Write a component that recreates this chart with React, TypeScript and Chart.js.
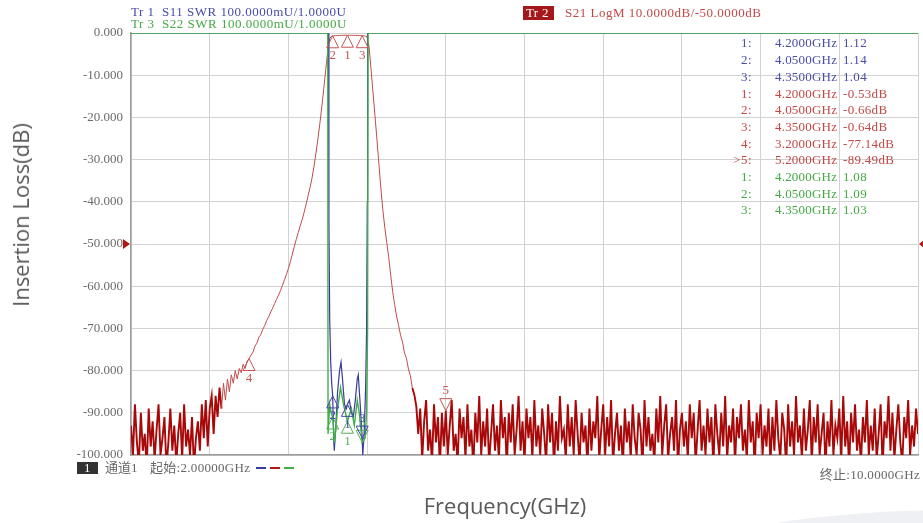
import React, { useEffect, useRef } from "react";
import { Chart, registerables } from "chart.js";

Chart.register(...registerables);

// ---- Sweep (S21 trace sampled on a uniform sweep from start, step in GHz) ----
const sweepStartGHz = 2;
const sweepStepGHz = 0.02;

// S21 LogM (dB), one value per sweep point 2.00 .. 10.00 GHz
const s21Db: number[] = [
  // 2.00 - 2.68 GHz noise floor
  -93, -100, -88, -97, -102, -90, -99, -95, -103, -89, -98, -92, -101, -94, -88,
  -100, -96, -91, -103, -97, -89, -99, -93, -102, -95, -90, -101, -88, -98, -94,
  -100, -91, -103, -96, -92,
  // 2.70 - 3.00 GHz rising noise
  -99, -88, -96, -87, -98, -89, -86, -95, -86, -91, -84, -89, -83, -87, -82, -85,
  // 3.02 - 3.18
  -81, -83, -80, -82, -79.5, -80.5, -78.5, -79.5, -77.8,
  // 3.20 (marker 4)
  -77.14,
  // 3.22 - 4.02 lower skirt
  -76.3, -75.6, -74.2, -73.5, -72.1, -71.4, -70.2, -69.3, -68.1, -67.2,
  -66.1, -65.2, -64.1, -63.1, -62.1, -61, -59.8, -58.5, -57.2, -55.8,
  -54.2, -52.4, -50.6, -48.9, -47.3, -45.7, -44.2, -42.5, -40.6, -38.6,
  -36.6, -34.4, -31.6, -28.5, -25.1, -21.4, -17.4, -13.1, -8.6, -4.2, -1.3,
  // 4.04 - 4.40 passband
  -0.72, -0.66, -0.62, -0.6, -0.58, -0.56, -0.55, -0.54, -0.53, -0.53,
  -0.54, -0.55, -0.56, -0.58, -0.6, -0.63, -0.64, -0.7, -0.95,
  // 4.42 - 4.90 upper skirt
  -3.2, -8.6, -14.1, -19.6, -25.2, -31, -36.8, -41.9, -46.1, -49.7,
  -53.2, -57.4, -61.3, -64.4, -67.1, -69.3, -71.6, -73.2, -75.8, -77.1,
  -79.6, -81.2, -84.1, -85.7, -88.4,
  // 4.92 - 10.00 noise floor
  -95, -89, -101, -92, -87, -99, -94, -102, -88, -97, -91, -103, -90, -98, -89.49,
  -100, -93, -87, -99, -95, -102, -89, -96, -91, -101, -88, -98, -94, -103, -90,
  -97, -86, -100, -92, -98, -89, -102, -95, -88, -99, -93, -101, -87, -96, -91,
  -103, -90, -97, -88, -100, -94, -86, -99, -92, -102, -89, -96, -91, -101, -87,
  -98, -93, -100, -89, -95, -102, -88, -97, -90, -103, -92, -99, -86, -96, -94,
  -101, -88, -98, -91, -100, -87, -95, -102, -90, -97, -93, -103, -89, -99, -92,
  -96, -86, -101, -94, -88, -100, -91, -98, -87, -102, -95, -90, -99, -93, -103,
  -89, -97, -92, -101, -88, -96, -100, -90, -94, -103, -87, -98, -91, -99, -95,
  -102, -89, -97, -86, -100, -93, -88, -101, -95, -91, -99, -87, -103, -94, -90,
  -98, -92, -101, -88, -96, -90, -102, -94, -87, -99, -93, -100, -89, -97, -91,
  -103, -88, -95, -100, -90, -98, -86, -101, -93, -97, -89, -102, -91, -96, -88,
  -99, -94, -101, -87, -97, -92, -103, -90, -96, -88, -100, -93, -98, -89, -102,
  -91, -99, -87, -96, -101, -90, -94, -103, -88, -98, -92, -100, -86, -97, -93,
  -101, -89, -99, -94, -87, -102, -91, -97, -88, -100, -95, -90, -103, -92, -98,
  -87, -100, -93, -96, -89, -101, -86, -98, -92, -103, -90, -97, -88, -99, -94,
  -102, -91, -97, -87, -100, -93, -99, -89, -101, -95, -88, -103, -92, -96, -86,
  -99, -90, -101, -94, -88, -97, -102, -91, -96, -87, -100, -93, -98, -89, -95,
];

// S11 SWR (display pegs at 2.0 = top of the 100 mU/div grid)
const s11FreqGHz = [2.0, 4.008, 4.012, 4.02, 4.03, 4.04, 4.05, 4.058, 4.066, 4.08, 4.1, 4.12, 4.135, 4.15, 4.17,
  4.19, 4.2, 4.22, 4.24, 4.26, 4.28, 4.3, 4.31, 4.33, 4.35, 4.356, 4.37, 4.385, 4.395, 4.402, 4.405, 10.0];
const s11Swr = [2, 2, 1.55, 1.32, 1.22, 1.17, 1.14, 1.06, 1.01, 1.06, 1.15, 1.2, 1.22, 1.18, 1.12,
  1.11, 1.12, 1.13, 1.1, 1.09, 1.13, 1.18, 1.19, 1.12, 1.04, 1.0, 1.05, 1.16, 1.3, 1.6, 2, 2];

// S22 SWR
const s22FreqGHz = [2.0, 4.0, 4.003, 4.02, 4.035, 4.05, 4.07, 4.1, 4.13, 4.16, 4.2, 4.24, 4.27, 4.3,
  4.32, 4.35, 4.38, 4.395, 4.405, 4.41, 10.0];
const s22Swr = [2, 2, 1.05, 1.12, 1.1, 1.09, 1.03, 1.11, 1.16, 1.12, 1.08, 1.11, 1.07, 1.13,
  1.1, 1.03, 1.04, 1.1, 1.3, 2, 2];

// Grid / ticks
const gridFreqGHz = [2, 2.8, 3.6, 4.4, 5.2, 6, 6.8, 7.6, 8.4, 9.2, 10];
const yTickDb = [0, -10, -20, -30, -40, -50, -60, -70, -80, -90, -100];
const refLevelDb = -50;

// Markers
const s21MarkerNo = ["1", "2", "3", "4", "5"];
const s21MarkerFreqGHz = [4.2, 4.05, 4.35, 3.2, 5.2];
const s21MarkerDb = [-0.53, -0.66, -0.64, -77.14, -89.49];
const swrMarkerNo = ["1", "2", "3"];
const swrMarkerFreqGHz = [4.2, 4.05, 4.35];
const s11MarkerSwr = [1.12, 1.14, 1.04];
const s22MarkerSwr = [1.08, 1.09, 1.03];

const BLUE = "#3a3a9e";
const GREEN = "#43ad4b";
const RED = "#b01818";
const RED_NOISE = "#a80808";
const RED_SKIRT = "#c34a4a";
const BLUE_T = "#4b4ba8";
const GREEN_T = "#46a846";
const RED_T = "#c24848";
const GRAY_T = "#666666";

const vnaFont = '"Liberation Serif", "Noto Sans CJK SC", serif';

function drawTri(ctx: CanvasRenderingContext2D, x: number, y: number, up: boolean, color: string, label: string) {
  const s = 12;
  ctx.strokeStyle = color;
  ctx.fillStyle = color;
  ctx.lineWidth = 1;
  ctx.beginPath();
  if (up) {
    ctx.moveTo(x, y);
    ctx.lineTo(x - s / 2, y + s);
    ctx.lineTo(x + s / 2, y + s);
  } else {
    ctx.moveTo(x, y);
    ctx.lineTo(x - s / 2, y - s);
    ctx.lineTo(x + s / 2, y - s);
  }
  ctx.closePath();
  ctx.stroke();
  ctx.fillText(label, x, up ? y + s + 8 : y - s - 8);
}

const markerPlugin = {
  id: "vnaMarkers",
  afterDatasetsDraw(chart: any) {
    const { ctx, chartArea, scales } = chart;
    const xs = scales.x;
    const ys = scales.y;
    const ysw = scales.ySwr;
    ctx.save();
    const yr = ys.getPixelForValue(refLevelDb);
    ctx.fillStyle = RED;
    ctx.beginPath();
    ctx.moveTo(chartArea.left - 8, yr - 5);
    ctx.lineTo(chartArea.left - 8, yr + 5);
    ctx.lineTo(chartArea.left - 1, yr);
    ctx.closePath();
    ctx.fill();
    ctx.beginPath();
    ctx.moveTo(chartArea.right + 7, yr - 5);
    ctx.lineTo(chartArea.right + 7, yr + 5);
    ctx.lineTo(chartArea.right + 1, yr);
    ctx.closePath();
    ctx.fill();

    ctx.font = `13px ${vnaFont}`;
    ctx.textAlign = "center";
    ctx.textBaseline = "middle";
    s21MarkerFreqGHz.forEach((f, i) => {
      const px = xs.getPixelForValue(f);
      const py = ys.getPixelForValue(s21MarkerDb[i]);
      drawTri(ctx, px, py, i < 4, "#c65454", s21MarkerNo[i]);
    });
    swrMarkerFreqGHz.forEach((f, i) => {
      const px = xs.getPixelForValue(f);
      drawTri(ctx, px, ysw.getPixelForValue(s22MarkerSwr[i]), i < 2, "#55b055", swrMarkerNo[i]);
      drawTri(ctx, px, ysw.getPixelForValue(s11MarkerSwr[i]), i < 2, "#4646b0", swrMarkerNo[i]);
    });
    ctx.restore();
  },
};

function Txt(props: { x: number; y: number; color: string; text: string; size?: number; right?: boolean; ls?: number }) {
  const size = props.size ?? 13;
  const style: any = {
    position: "absolute",
    top: props.y - 6.6,
    font: `${size}px ${vnaFont}`,
    lineHeight: `${size}px`,
    color: props.color,
    whiteSpace: "pre",
    letterSpacing: `${props.ls ?? 0.5}px`,
  };
  if (props.right) style.right = 923 - props.x;
  else style.left = props.x;
  return <span style={style}>{props.text}</span>;
}

export default function App() {
  const ref = useRef<HTMLCanvasElement>(null);

  useEffect(() => {
    const s21Points = s21Db.map((v, i) => ({ x: +(sweepStartGHz + i * sweepStepGHz).toFixed(3), y: v }));
    const s11Points = s11FreqGHz.map((f, i) => ({ x: f, y: s11Swr[i] }));
    const s22Points = s22FreqGHz.map((f, i) => ({ x: f, y: s22Swr[i] }));
    const isNoise = (c: any) => c.p0.parsed.y < -83 && c.p1.parsed.y < -83;

    const chart = new Chart(ref.current as HTMLCanvasElement, {
      type: "line",
      data: {
        datasets: [
          { label: "S22 SWR", data: s22Points, yAxisID: "ySwr", borderColor: GREEN, borderWidth: 1.4, pointRadius: 0, tension: 0 },
          { label: "S11 SWR", data: s11Points, yAxisID: "ySwr", borderColor: BLUE, borderWidth: 1.2, pointRadius: 0, tension: 0 },
          {
            label: "S21 LogM",
            data: s21Points,
            yAxisID: "y",
            borderColor: RED,
            borderWidth: 1,
            pointRadius: 0,
            tension: 0,
            segment: {
              borderWidth: (c: any) => (isNoise(c) ? 1.9 : 1),
              borderColor: (c: any) => (isNoise(c) ? RED_NOISE : RED_SKIRT),
            },
          },
        ],
      },
      options: {
        responsive: false,
        animation: false,
        layout: { padding: { top: 33, right: 5, left: 0, bottom: 0 } },
        plugins: { legend: { display: false }, tooltip: { enabled: false }, title: { display: false } },
        scales: {
          x: {
            type: "linear",
            min: 2,
            max: 10,
            afterBuildTicks: (s: any) => {
              s.ticks = gridFreqGHz.map((v) => ({ value: v }));
            },
            afterFit: (s: any) => {
              s.height = 68;
            },
            ticks: { display: false },
            grid: { color: "#d2d2d2", drawTicks: false },
            border: { color: "#9c9c9c", width: 1.5 },
          },
          y: {
            type: "linear",
            position: "left",
            min: -100,
            max: 0,
            afterBuildTicks: (s: any) => {
              s.ticks = yTickDb.map((v) => ({ value: v }));
            },
            afterFit: (s: any) => {
              s.width = 131;
            },
            ticks: {
              callback: (v: any) => Number(v).toFixed(3),
              font: { family: "Liberation Serif", size: 13 },
              color: "#6b6b6b",
              padding: 8,
            },
            grid: { color: "#d2d2d2", drawTicks: false },
            border: { color: "#9c9c9c", width: 1.5 },
          },
          ySwr: { type: "linear", display: false, min: 1, max: 2 },
        },
      },
      plugins: [markerPlugin],
    } as any);
    return () => chart.destroy();
  }, []);

  const tableRows: { no: string; freq: string; val: string; color: string }[] = [];
  swrMarkerNo.forEach((n, i) =>
    tableRows.push({ no: `${n}:`, freq: `${swrMarkerFreqGHz[i].toFixed(4)}GHz`, val: s11MarkerSwr[i].toFixed(2), color: BLUE_T })
  );
  s21MarkerNo.forEach((n, i) =>
    tableRows.push({
      no: (i === 4 ? ">" : "") + `${n}:`,
      freq: `${s21MarkerFreqGHz[i].toFixed(4)}GHz`,
      val: `${s21MarkerDb[i].toFixed(2)}dB`,
      color: RED_T,
    })
  );
  swrMarkerNo.forEach((n, i) =>
    tableRows.push({ no: `${n}:`, freq: `${swrMarkerFreqGHz[i].toFixed(4)}GHz`, val: s22MarkerSwr[i].toFixed(2), color: GREEN_T })
  );

  return (
    <div style={{ position: "fixed", left: 0, top: 0, width: 923, height: 523, overflow: "hidden", background: "#fff" }}>
      <div style={{ position: "absolute", left: 700, top: 510, width: 520, height: 90, borderRadius: "50%", background: "#eef0f4" }} />
      <canvas ref={ref} width={923} height={523} style={{ position: "absolute", left: 0, top: 0 }} />

      {/* header */}
      <Txt x={131} y={12} color={BLUE_T} text={"Tr 1  S11 SWR 100.0000mU/1.0000U"} />
      <Txt x={131} y={24} color={GREEN_T} text={"Tr 3  S22 SWR 100.0000mU/1.0000U"} />
      <div style={{ position: "absolute", left: 523, top: 6, width: 31, height: 14, background: "#a3191b" }} />
      <Txt x={526} y={13} color="#ffffff" text={"Tr 2"} ls={0.3} />
      <Txt x={565} y={13} color={RED_T} text={"S21 LogM 10.0000dB/-50.0000dB"} />

      {/* marker table */}
      {tableRows.map((r, i) => (
        <React.Fragment key={i}>
          <Txt x={752} y={43 + i * 16.7} color={r.color} text={r.no} right />
          <Txt x={775} y={43 + i * 16.7} color={r.color} text={r.freq} ls={0.2} />
          <Txt x={843} y={43 + i * 16.7} color={r.color} text={r.val} ls={0.3} />
        </React.Fragment>
      ))}

      {/* footer */}
      <div style={{ position: "absolute", left: 77, top: 462, width: 21, height: 12, background: "#333" }} />
      <Txt x={84} y={468} color="#ffffff" text={"1"} ls={0} />
      <Txt x={105} y={468} color={GRAY_T} text={"通道1"} ls={0} />
      <Txt x={150} y={468} color={GRAY_T} text={"起始:2.00000GHz"} ls={0.3} />
      <div style={{ position: "absolute", left: 256, top: 467, width: 10, height: 1.5, background: BLUE }} />
      <div style={{ position: "absolute", left: 270, top: 467, width: 10, height: 1.5, background: RED }} />
      <div style={{ position: "absolute", left: 284, top: 467, width: 10, height: 1.5, background: GREEN }} />
      <Txt x={920} y={475} color={GRAY_T} text={"终止:10.0000GHz"} right ls={0.3} />

      {/* axis titles */}
      <div
        style={{
          position: "absolute",
          left: 505,
          top: 505,
          transform: "translate(-50%, -50%)",
          font: '22px "Open Sans", sans-serif',
          color: "#595959",
          whiteSpace: "nowrap",
        }}
      >
        Frequency(GHz)
      </div>
      <div
        style={{
          position: "absolute",
          left: 20,
          top: 215,
          transform: "translate(-50%, -50%) rotate(-90deg)",
          font: '22px "Open Sans", sans-serif',
          color: "#595959",
          whiteSpace: "nowrap",
        }}
      >
        Insertion Loss(dB)
      </div>
    </div>
  );
}
